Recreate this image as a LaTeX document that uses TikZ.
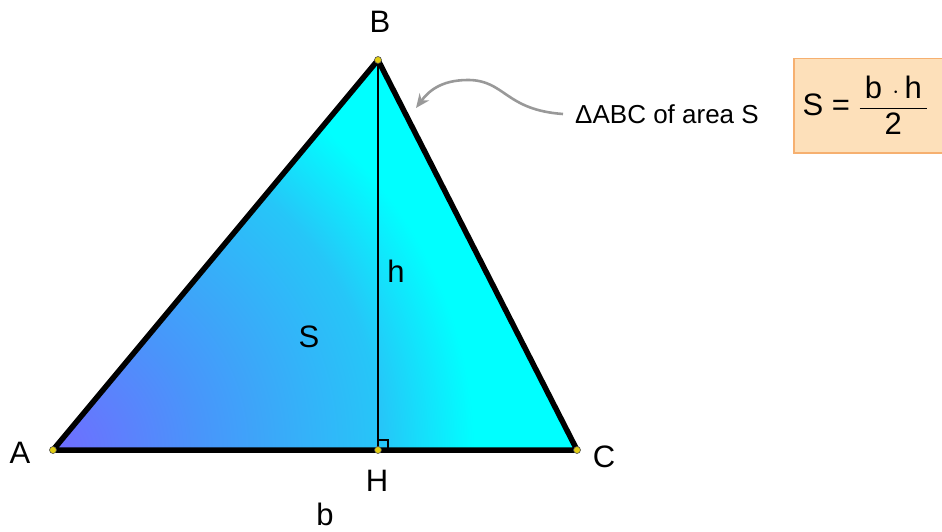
\documentclass[tikz,border=0pt]{standalone}
\usepackage{fontspec}
\usepackage{amsmath}
\setmainfont{Liberation Sans}
\usetikzlibrary{arrows.meta}
\definecolor{violetb}{RGB}{112,108,255}
\definecolor{blueb}{RGB}{72,150,250}
\definecolor{midblue}{RGB}{38,198,248}
\definecolor{boxfill}{RGB}{253,224,186}
\definecolor{boxline}{RGB}{246,176,112}
\definecolor{ptyellow}{RGB}{225,205,20}
\pgfdeclareradialshading{trishade}{\pgfpoint{0bp}{0bp}}{color(0bp)=(violetb); color(6.7bp)=(blueb); color(14.7bp)=(midblue); color(18.8bp)=(cyan); color(50bp)=(cyan)}
\tikzset{
  lbl/.style={font=\fontsize{31}{36}\selectfont},
  pt/.style={circle, fill=ptyellow, draw=black!70, line width=.6pt, inner sep=0pt, minimum size=7pt},
  side/.style={line width=5.5pt, line join=round, line cap=round},
}
\begin{document}
\begin{tikzpicture}[x=1pt, y=-1pt, >=Stealth]
\useasboundingbox (0,0) rectangle (942,532);
\coordinate (A) at (53,450);
\coordinate (B) at (378,60);
\coordinate (C) at (577,450);
\coordinate (H) at (378,450);

% triangle with its shading
\begin{scope}
\clip (A)--(B)--(C)--cycle;
\shade[shading=trishade] (A) circle (560);
\end{scope}
\draw[line width=1.8pt] (B)--(H);
\draw[line width=1.3pt] ([yshift=10pt]H) -| ([xshift=10pt]H);
\draw[side] (A)--(B)--(C)--cycle;

\node[pt] at (A){};
\node[pt] at (B){};
\node[pt] at (C){};
\node[pt] at (H){};

\node[lbl] (la) at (20,453){A};
\node[lbl] (lb) at (380,22){B};
\node[lbl] (lc) at (604,457){C};
\node[lbl] (lh) at (377,481){H};
\node[lbl, inner sep=0pt] (lbase) at (325,514){b};
\node[lbl] (lheight) at (396,271){h};
\node[lbl] (larea) at (309,337){S};

% comment and formula
\node[font=\fontsize{26}{30}\selectfont, inner sep=0pt] (note) at (667,114){ΔABC of area S};
\coordinate (tip) at (416,108);
\draw[-{Stealth[length=14pt, width=12pt]}, gray!80, line width=2.6pt] ([xshift=-12pt]note.west) .. controls (505,110) and (505,80) .. (468,80) .. controls (440,80) and (428,92) .. (tip);

\node[draw=boxline, fill=boxfill, line width=1.5pt, minimum height=94pt, minimum width=160pt, anchor=north west] (frm) at (793,58){};
\node[lbl, anchor=west] (eq) at (799,105){S = $\dfrac{\text{\,b\,\,$\cdot$\,h\,}}{\text{2}}$};
\end{tikzpicture}
\end{document}
